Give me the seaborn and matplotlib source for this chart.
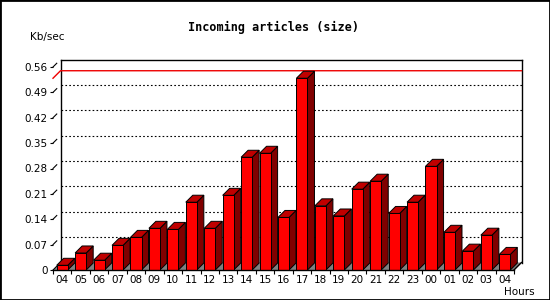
import numpy as np
import pandas as pd
import matplotlib
matplotlib.use("Agg")
import matplotlib.pyplot as plt
from matplotlib.patches import Polygon, Rectangle
import seaborn as sns

# ---- data ----
hours = ["04", "05", "06", "07", "08", "09", "10", "11", "12", "13", "14", "15",
         "16", "17", "18", "19", "20", "21", "22", "23", "00", "01", "02", "03", "04"]
kbsec = [0.013, 0.047, 0.027, 0.068, 0.090, 0.115, 0.112, 0.187, 0.115, 0.206,
         0.311, 0.322, 0.145, 0.529, 0.177, 0.149, 0.223, 0.245, 0.156, 0.187,
         0.286, 0.104, 0.052, 0.096, 0.043]
yticks = [0, 0.07, 0.14, 0.21, 0.28, 0.35, 0.42, 0.49, 0.56]
ytick_labels = ["0", "0.07", "0.14", "0.21", "0.28", "0.35", "0.42", "0.49", "0.56"]
title = "Incoming articles (size)"
ylabel = "Kb/sec"
xlabel = "Hours"

FRONT = "#ff0000"
SIDE = "#800000"
TOP = "#c00000"
FLOOR = "#808080"

W, H = 550, 300
fig = plt.figure(figsize=(W / 100, H / 100), dpi=100)
fig.patch.set_facecolor("white")

# front plane in pixels
L, R, B, T = 53, 514, 270, 67
ax = fig.add_axes([L / W, 1 - B / H, (R - L) / W, (B - T) / H])
ax.set_facecolor("none")

n = len(kbsec)
df = pd.DataFrame({"slot": np.arange(n), "value": kbsec})
sns.barplot(data=df, x="slot", y="value", color=FRONT, saturation=1,
            edgecolor="black", linewidth=0.7, width=0.6, ax=ax, zorder=3)

ax.set_xlim(-0.5, n - 0.5)
ax.set_ylim(0, 0.56)

# pixel -> data conversions
px_x = (n) / (R - L)
px_y = 0.56 / (B - T)
pdx, pdy = 7.5 * px_x, 7.5 * px_y     # back plane offset
bdx, bdy = 7 * px_x, 7 * px_y         # bar depth

x0, x1 = -0.5, n - 0.5
ymax = 0.56

# floor strip
ax.add_patch(Polygon([(x0, 0), (x1, 0), (x1 + pdx, pdy), (x0 + pdx, pdy)],
                     closed=True, facecolor=FLOOR, edgecolor="none",
                     zorder=0.5, clip_on=False))

# dotted gridlines on back plane
for v in yticks[1:-1]:
    ax.plot([x0 + pdx, x1 + pdx], [v + pdy, v + pdy], color="black",
            lw=0.8, linestyle=(0, (1.5, 2)), zorder=0.8, clip_on=False)

# back plane frame
ax.plot([x0 + pdx, x0 + pdx], [pdy, ymax + pdy], color="black", lw=1,
        zorder=0.9, clip_on=False)
ax.plot([x0 + pdx, x1 + pdx], [ymax + pdy, ymax + pdy], color="black", lw=1,
        zorder=0.9, clip_on=False)
ax.plot([x1 + pdx, x1 + pdx], [pdy, ymax + pdy], color="black", lw=1,
        zorder=0.9, clip_on=False)
ax.plot([x1, x1 + pdx], [0, pdy], color="black", lw=1, zorder=0.9, clip_on=False)

# max line (red) on back plane
m = max(kbsec)
ax.plot([x0, x0 + pdx, x1 + pdx], [m, m + pdy, m + pdy], color="#ee0000",
        lw=1, zorder=0.95, clip_on=False)

# 3D bar side / top faces
for p in list(ax.patches):
    if not isinstance(p, Rectangle):
        continue
    bx = p.get_x()
    bw = p.get_width()
    bh = p.get_height()
    if bw <= 0 or bw > 1:
        continue
    side = Polygon([(bx + bw, 0), (bx + bw + bdx, bdy), (bx + bw + bdx, bh + bdy),
                    (bx + bw, bh)], closed=True, facecolor=SIDE,
                   edgecolor="black", lw=0.7, zorder=2.9, clip_on=False)
    top = Polygon([(bx, bh), (bx + bw, bh), (bx + bw + bdx, bh + bdy),
                   (bx + bdx, bh + bdy)], closed=True, facecolor=TOP,
                  edgecolor="black", lw=0.7, zorder=2.9, clip_on=False)
    ax.add_patch(side)
    ax.add_patch(top)

# left diagonal ticks
for v in yticks:
    ax.plot([x0, x0 + pdx * 0.5], [v, v + pdy * 0.5], color="black", lw=0.8,
            zorder=1, clip_on=False)

# spines / ticks
for s in ["top", "right", "left"]:
    ax.spines[s].set_visible(False)
ax.spines["bottom"].set_linewidth(1)
ax.spines["bottom"].set_zorder(4)

ax.set_yticks(yticks)
ax.set_yticklabels(ytick_labels)
ax.set_xticks(np.arange(n))
ax.set_xticklabels(hours)
ax.set_xticks(np.arange(n + 1) - 0.5, minor=True)
ax.tick_params(axis="x", which="major", length=0, pad=3.5, labelsize=7.5)
ax.tick_params(axis="x", which="minor", length=3, width=0.8, direction="out")
ax.tick_params(axis="y", which="major", length=2.5, width=0.8, pad=1.5,
               labelsize=7.5, direction="out")
ax.set_xlabel("")
ax.set_ylabel("")

fig.text(274 / W, 1 - 27 / H, title, ha="center", va="center",
         family="DejaVu Sans Mono", weight="bold", size=8.5)
fig.text(47 / W, 1 - 37 / H, ylabel, ha="center", va="center", size=7.5)
fig.text(519 / W, 1 - 292 / H, xlabel, ha="center", va="center", size=7.5)

fig.add_artist(Rectangle((0, 0), 1, 1, transform=fig.transFigure, fill=False,
                         edgecolor="black", lw=2))

fig.savefig("out.png", dpi=100, facecolor="white")
